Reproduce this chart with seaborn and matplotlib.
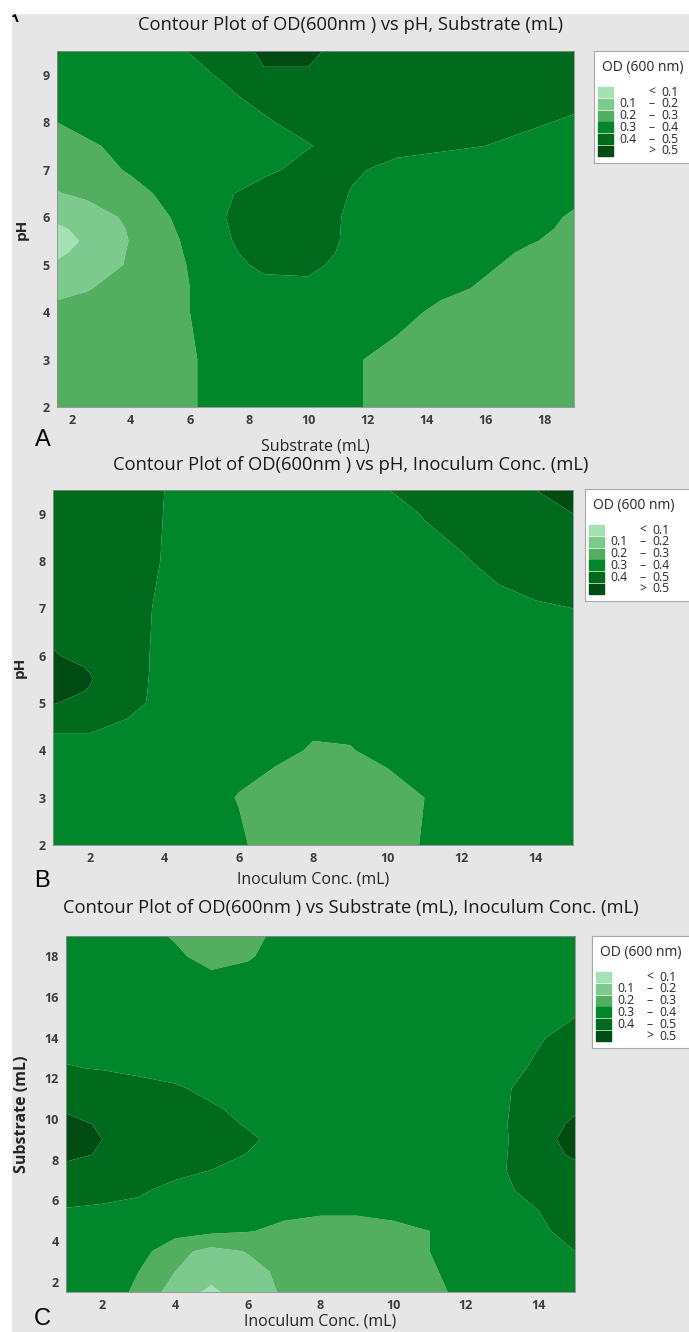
import numpy as np
import matplotlib
matplotlib.use("Agg")
import matplotlib.pyplot as plt
import seaborn as sns
from matplotlib.patches import Rectangle

# ----------------------------------------
# Data (OD 600 nm)
# ----------------------------------------
bounds = [0.0, 0.1, 0.2, 0.3, 0.4, 0.5, 0.7]
band_colors = ["#a6e1b6", "#7dca8e", "#52af5f", "#00862b", "#006b1d", "#004c13"]
legend_left = ["", "0.1", "0.2", "0.3", "0.4", ""]
legend_mid = ["<", "\u2013", "\u2013", "\u2013", "\u2013", ">"]
legend_right = ["0.1", "0.2", "0.3", "0.4", "0.5", "0.5"]

# A: pH vs Substrate
sub_a = [1.5, 2.5, 4, 5.5, 7, 8.5, 10, 11.5, 13, 14.5, 16, 17.5, 19]
ph_a = [2, 3, 4, 4.5, 5, 5.25, 5.5, 5.75, 6, 6.5, 7, 7.5, 8, 8.5, 9, 9.5]
od_a = [
    [0.26, 0.26, 0.26, 0.27, 0.33, 0.35, 0.34, 0.31, 0.27, 0.25, 0.25, 0.25, 0.26],
    [0.25, 0.25, 0.25, 0.27, 0.33, 0.35, 0.34, 0.31, 0.27, 0.25, 0.25, 0.25, 0.26],
    [0.22, 0.23, 0.25, 0.28, 0.34, 0.36, 0.36, 0.36, 0.33, 0.28, 0.26, 0.25, 0.25],
    [0.18, 0.195, 0.23, 0.28, 0.34, 0.37, 0.38, 0.37, 0.35, 0.32, 0.29, 0.26, 0.25],
    [0.11, 0.15, 0.21, 0.28, 0.36, 0.42, 0.42, 0.37, 0.35, 0.33, 0.31, 0.28, 0.26],
    [0.085, 0.125, 0.21, 0.285, 0.37, 0.44, 0.44, 0.375, 0.355, 0.34, 0.32, 0.29, 0.27],
    [0.07, 0.11, 0.205, 0.29, 0.38, 0.45, 0.45, 0.38, 0.36, 0.35, 0.33, 0.305, 0.28],
    [0.085, 0.125, 0.21, 0.30, 0.385, 0.455, 0.455, 0.38, 0.36, 0.355, 0.34, 0.318, 0.285],
    [0.12, 0.15, 0.22, 0.31, 0.39, 0.46, 0.46, 0.38, 0.36, 0.36, 0.35, 0.33, 0.29],
    [0.195, 0.22, 0.27, 0.33, 0.38, 0.44, 0.45, 0.395, 0.37, 0.36, 0.36, 0.35, 0.32],
    [0.24, 0.26, 0.31, 0.35, 0.37, 0.38, 0.43, 0.41, 0.38, 0.37, 0.37, 0.36, 0.35],
    [0.27, 0.29, 0.32, 0.35, 0.36, 0.37, 0.395, 0.44, 0.42, 0.41, 0.40, 0.38, 0.37],
    [0.30, 0.32, 0.34, 0.36, 0.37, 0.39, 0.43, 0.46, 0.45, 0.44, 0.43, 0.41, 0.39],
    [0.33, 0.34, 0.35, 0.36, 0.38, 0.42, 0.47, 0.47, 0.46, 0.45, 0.45, 0.44, 0.42],
    [0.34, 0.35, 0.36, 0.37, 0.405, 0.49, 0.495, 0.47, 0.46, 0.46, 0.46, 0.45, 0.44],
    [0.35, 0.35, 0.37, 0.39, 0.43, 0.52, 0.51, 0.48, 0.47, 0.46, 0.46, 0.46, 0.45],
]

# B: pH vs Inoculum
ino_b = [1, 2, 3, 4, 5, 6, 7, 8, 9, 10, 11, 12, 13, 14, 15]
ph_b = [2, 3, 4, 5, 5.25, 5.5, 5.75, 6, 7, 8, 9, 9.5]
od_b = [
    [0.35, 0.35, 0.35, 0.35, 0.34, 0.32, 0.24, 0.22, 0.22, 0.24, 0.31, 0.35, 0.36, 0.37, 0.38],
    [0.36, 0.36, 0.36, 0.35, 0.34, 0.295, 0.24, 0.22, 0.22, 0.25, 0.30, 0.34, 0.36, 0.37, 0.38],
    [0.34, 0.36, 0.36, 0.36, 0.35, 0.34, 0.33, 0.29, 0.295, 0.33, 0.35, 0.36, 0.37, 0.37, 0.38],
    [0.505, 0.47, 0.42, 0.38, 0.36, 0.35, 0.35, 0.34, 0.34, 0.35, 0.36, 0.36, 0.37, 0.37, 0.38],
    [0.53, 0.495, 0.43, 0.375, 0.36, 0.35, 0.35, 0.345, 0.345, 0.35, 0.36, 0.36, 0.37, 0.375, 0.38],
    [0.54, 0.505, 0.44, 0.37, 0.36, 0.35, 0.35, 0.35, 0.35, 0.35, 0.36, 0.36, 0.37, 0.38, 0.38],
    [0.53, 0.495, 0.445, 0.37, 0.36, 0.35, 0.35, 0.35, 0.35, 0.35, 0.36, 0.365, 0.37, 0.38, 0.385],
    [0.505, 0.48, 0.445, 0.37, 0.36, 0.35, 0.35, 0.35, 0.35, 0.35, 0.36, 0.37, 0.37, 0.38, 0.39],
    [0.47, 0.46, 0.44, 0.38, 0.36, 0.35, 0.35, 0.35, 0.35, 0.36, 0.36, 0.37, 0.37, 0.39, 0.40],
    [0.46, 0.46, 0.44, 0.395, 0.37, 0.36, 0.35, 0.35, 0.36, 0.36, 0.37, 0.39, 0.43, 0.45, 0.46],
    [0.46, 0.46, 0.45, 0.398, 0.37, 0.36, 0.36, 0.36, 0.36, 0.37, 0.405, 0.44, 0.47, 0.49, 0.50],
    [0.46, 0.46, 0.45, 0.40, 0.37, 0.36, 0.36, 0.36, 0.37, 0.398, 0.43, 0.46, 0.48, 0.50, 0.53],
]

# C: Substrate vs Inoculum
ino_c = [1, 2, 3, 4, 5, 6, 7, 8, 9, 10, 11, 12, 13, 14, 15]
sub_c = [1.5, 2.5, 3.5, 4.5, 5.5, 6.5, 7.5, 8.25, 9, 9.75, 10.5, 11.5, 12.5, 14, 15.5, 17, 18, 19]
od_c = [
    [0.35, 0.34, 0.285, 0.15, 0.08, 0.16, 0.21, 0.24, 0.25, 0.26, 0.28, 0.32, 0.35, 0.37, 0.38],
    [0.36, 0.35, 0.30, 0.20, 0.14, 0.17, 0.22, 0.25, 0.26, 0.27, 0.29, 0.33, 0.36, 0.38, 0.39],
    [0.37, 0.36, 0.34, 0.23, 0.17, 0.205, 0.24, 0.26, 0.27, 0.28, 0.30, 0.34, 0.37, 0.39, 0.40],
    [0.37, 0.37, 0.36, 0.34, 0.32, 0.305, 0.28, 0.27, 0.27, 0.28, 0.30, 0.34, 0.37, 0.395, 0.41],
    [0.395, 0.39, 0.38, 0.36, 0.345, 0.33, 0.32, 0.31, 0.31, 0.32, 0.33, 0.35, 0.37, 0.40, 0.43],
    [0.43, 0.42, 0.41, 0.38, 0.36, 0.35, 0.34, 0.33, 0.33, 0.34, 0.35, 0.37, 0.39, 0.42, 0.45],
    [0.47, 0.46, 0.44, 0.42, 0.40, 0.38, 0.36, 0.35, 0.35, 0.35, 0.36, 0.38, 0.395, 0.44, 0.47],
    [0.525, 0.49, 0.46, 0.44, 0.42, 0.398, 0.37, 0.355, 0.35, 0.35, 0.36, 0.38, 0.39, 0.46, 0.515],
    [0.54, 0.50, 0.47, 0.45, 0.43, 0.41, 0.38, 0.36, 0.35, 0.35, 0.36, 0.38, 0.385, 0.47, 0.53],
    [0.525, 0.49, 0.46, 0.44, 0.42, 0.395, 0.37, 0.355, 0.35, 0.35, 0.36, 0.38, 0.39, 0.46, 0.515],
    [0.49, 0.47, 0.45, 0.43, 0.41, 0.38, 0.36, 0.35, 0.35, 0.35, 0.36, 0.38, 0.39, 0.44, 0.49],
    [0.46, 0.45, 0.43, 0.41, 0.38, 0.36, 0.35, 0.34, 0.34, 0.34, 0.35, 0.37, 0.39, 0.43, 0.46],
    [0.405, 0.395, 0.38, 0.37, 0.35, 0.34, 0.33, 0.33, 0.33, 0.33, 0.34, 0.36, 0.38, 0.41, 0.44],
    [0.37, 0.36, 0.35, 0.34, 0.33, 0.33, 0.33, 0.33, 0.33, 0.33, 0.34, 0.35, 0.37, 0.395, 0.42],
    [0.36, 0.35, 0.34, 0.33, 0.32, 0.32, 0.33, 0.33, 0.33, 0.34, 0.34, 0.35, 0.36, 0.37, 0.39],
    [0.35, 0.35, 0.34, 0.32, 0.31, 0.315, 0.33, 0.34, 0.34, 0.34, 0.35, 0.35, 0.36, 0.36, 0.37],
    [0.35, 0.35, 0.33, 0.31, 0.28, 0.295, 0.32, 0.34, 0.34, 0.35, 0.35, 0.35, 0.36, 0.36, 0.37],
    [0.35, 0.34, 0.32, 0.295, 0.26, 0.28, 0.32, 0.34, 0.35, 0.35, 0.35, 0.35, 0.36, 0.36, 0.37],
]

titles = [
    "Contour Plot of OD(600nm ) vs pH, Substrate (mL)",
    "Contour Plot of OD(600nm ) vs pH, Inoculum Conc. (mL)",
    "Contour Plot of OD(600nm ) vs Substrate (mL), Inoculum Conc. (mL)",
]

# ----------------------------------------
# Figure setup
# ----------------------------------------
sns.set_style("white")
plt.rcParams["font.family"] = ["Open Sans", "DejaVu Sans"]

W, H = 689, 1332
BG = "#e6e6e6"
TXT = "#262626"
fig = plt.figure(figsize=(W / 100, H / 100), dpi=100, facecolor=BG)


def rect(l, t, r, b):
    return [l / W, 1 - b / H, (r - l) / W, (b - t) / H]


def fx(px):
    return px / W


def fy(py):
    return 1 - py / H


def panel(box, x, y, z, xlim, ylim, xticks, yticks):
    ax = fig.add_axes(rect(*box))
    ax.contourf(x, y, np.array(z), levels=bounds, colors=band_colors, antialiased=True)
    ax.set_xlim(xlim)
    ax.set_ylim(ylim)
    ax.set_xticks(xticks)
    ax.set_yticks(yticks)
    ax.tick_params(labelsize=9, colors="#3c3c3c", length=3, width=0.6,
                   direction="out", pad=2)
    for lab in ax.get_xticklabels() + ax.get_yticklabels():
        lab.set_fontweight("bold")
    for s in ax.spines.values():
        s.set_color("#8c8c8c")
        s.set_linewidth(0.6)
    return ax


def legend(left, top, bottom, title_y, row0, step):
    lax = fig.add_axes(rect(left, top, W + 20, bottom))
    lax.set_xlim(left, W + 20)
    lax.set_ylim(bottom, top)
    lax.set_xticks([])
    lax.set_yticks([])
    lax.set_facecolor("white")
    for s in lax.spines.values():
        s.set_color("#a8a8a8")
        s.set_linewidth(0.8)
    lax.text(left + 8, title_y, "OD (600 nm)", ha="left", va="center",
             fontsize=10, color=TXT)
    for i in range(len(band_colors)):
        yy = row0 + i * step
        lax.add_patch(Rectangle((left + 4, yy - 5), 15, 10, color=band_colors[i]))
        lax.text(left + 25, yy, legend_left[i], ha="left", va="center",
                 fontsize=8.8, color=TXT)
        lax.text(left + 58, yy, legend_mid[i], ha="center", va="center",
                 fontsize=8.8, color=TXT)
        lax.text(left + 67, yy, legend_right[i], ha="left", va="center",
                 fontsize=8.8, color=TXT)


# ----------------------------------------
# Panels
# ----------------------------------------
panel((57, 51, 574, 407), sub_a, ph_a, od_a, (1.5, 19), (2, 9.5),
      range(2, 19, 2), range(2, 10))
panel((53, 490, 573, 845), ino_b, ph_b, od_b, (1, 15), (2, 9.5),
      range(2, 15, 2), range(2, 10))
panel((66, 936, 575, 1292), ino_c, sub_c, od_c, (1, 15), (1.5, 19),
      range(2, 15, 2), range(2, 19, 2))

legend(594, 51, 163, 68, 92, 11.8)
legend(585, 489, 601, 505, 530, 11.8)
legend(592, 936, 1048, 952, 977, 11.8)

# titles and axis labels
for t, ty in zip(titles, [25, 465, 908]):
    fig.text(fx(351), fy(ty), t, ha="center", va="center", fontsize=13.2, color="#1a1a1a")

fig.text(fx(315), fy(446), "Substrate (mL)", ha="center", va="center", fontsize=11.5, color=TXT)
fig.text(fx(313), fy(880), "Inoculum Conc. (mL)", ha="center", va="center", fontsize=11.5, color=TXT)
fig.text(fx(320), fy(1322), "Inoculum Conc. (mL)", ha="center", va="center", fontsize=11.5, color=TXT)
fig.text(fx(22), fy(229), "pH", ha="center", va="center", rotation=90, fontsize=11,
         fontweight="bold", color=TXT)
fig.text(fx(20), fy(667), "pH", ha="center", va="center", rotation=90, fontsize=11,
         fontweight="bold", color=TXT)
fig.text(fx(22), fy(1114), "Substrate (mL)", ha="center", va="center", rotation=90,
         fontsize=11.5, fontweight="bold", color=TXT)

# panel letters
for letter, lx, ly in [("A", 11, 16), ("A", 43, 440), ("B", 42, 881), ("C", 42, 1319)]:
    fig.text(fx(lx), fy(ly), letter, ha="center", va="center", fontsize=17,
             family=["Liberation Sans", "DejaVu Sans"], color="black")

# white margins of the scanned page
fig.patches.append(Rectangle((0, fy(13)), 1, 1, transform=fig.transFigure,
                             color="white", zorder=10))
fig.patches.append(Rectangle((0, 0), fx(11), 1, transform=fig.transFigure,
                             color="white", zorder=10))

fig.savefig("out.png", dpi=100, facecolor=BG)
